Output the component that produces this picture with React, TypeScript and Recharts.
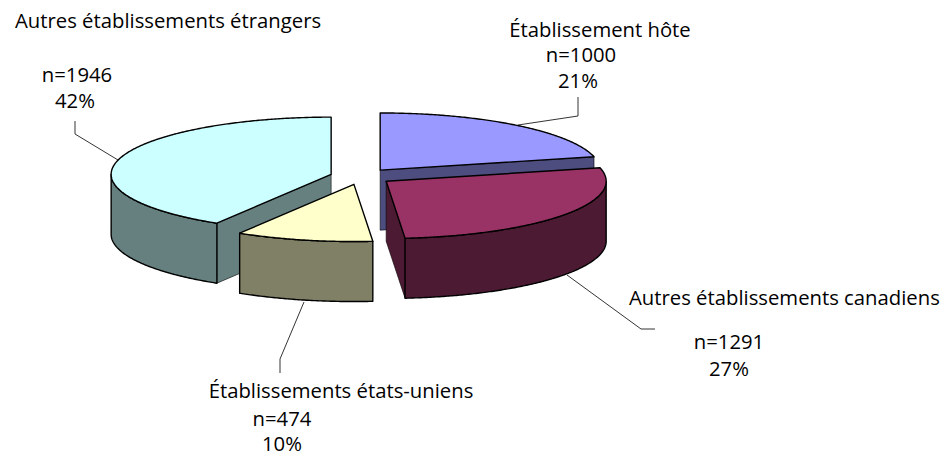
import React from 'react';
import { PieChart, Pie } from 'recharts';

// painted back to front, so the big slice comes first
const categories = ['Autres établissements étrangers', 'Établissement hôte', 'Autres établissements canadiens', 'Établissements états-uniens'];
const counts = [1946, 1000, 1291, 474];
const percents = ['42%', '21%', '27%', '10%'];

const topColors = ['#CCFFFF', '#9999FF', '#993366', '#FFFFCC'];
const sideColors = ['#668080', '#4D4D80', '#4D1A33', '#808066'];

const W = 946;
const H = 453;
const SQUASH = 0.26; // flattening of the disc
const DEPTH = 60;
const EXPLODE = 31;
const FONT = '"Open Sans", sans-serif';
const FONT_SIZE = 20.3;

const labelLayout = [
  [{ x: 15, y: 28, anchor: 'start' }, { x: 77, y: 82, anchor: 'middle' }, { x: 75, y: 108, anchor: 'middle' }],
  [{ x: 600, y: 37, anchor: 'middle' }, { x: 581, y: 62, anchor: 'middle' }, { x: 578, y: 88, anchor: 'middle' }],
  [{ x: 629, y: 305, anchor: 'start' }, { x: 729, y: 349, anchor: 'middle' }, { x: 729, y: 376, anchor: 'middle' }],
  [{ x: 341, y: 398, anchor: 'middle' }, { x: 282, y: 426, anchor: 'middle' }, { x: 282, y: 451, anchor: 'middle' }],
];

const leaders = [
  '75,121 75,134 118,160',
  '518,125 578,116 578,97',
  '567,275 641,329 655,329',
  '304,302 280,359 280,373',
];

const rad = (d: number) => (d * Math.PI) / 180;
const path = (pts: number[][]) => 'M' + pts.map(p => `${p[0].toFixed(2)},${p[1].toFixed(2)}`).join('L') + 'Z';

// draws a Recharts sector as a thick squashed slice
const Slice3D = (props: any) => {
  const { cx, cy, outerRadius: r, startAngle, endAngle, fill, side } = props;
  // clockwise from 12 o'clock
  const s = 90 - startAngle;
  const e = 90 - endAngle;
  const m = (s + e) / 2;
  const ax = cx + EXPLODE * Math.sin(rad(m));
  const ay = cy - EXPLODE * SQUASH * Math.cos(rad(m));
  const at = (a: number, dy = 0) => [ax + r * Math.sin(rad(a)), ay - r * SQUASH * Math.cos(rad(a)) + dy];

  const arc: number[] = [];
  for (let a = s; a < e; a += 0.5) arc.push(a);
  arc.push(e);

  const front = arc.filter(a => Math.cos(rad(a)) <= 0);
  const wall = front.length > 1 ? path([...front.map(a => at(a)), ...[...front].reverse().map(a => at(a, DEPTH))]) : null;
  const cut = (a: number) => path([[ax, ay], at(a), at(a, DEPTH), [ax, ay + DEPTH]]);

  return (
    <g>
      {Math.sin(rad(s)) < -0.01 && <path d={cut(s)} fill={side} stroke="#000" strokeWidth={0.6} strokeLinejoin="round" />}
      {Math.sin(rad(e)) > 0.01 && <path d={cut(e)} fill={side} stroke="#000" strokeWidth={0.6} strokeLinejoin="round" />}
      {wall && <path d={wall} fill={side} stroke="#000" strokeWidth={1.4} strokeLinejoin="round" />}
      <path d={path([[ax, ay], ...arc.map(a => at(a))])} fill={fill} stroke="#000" strokeWidth={1.4} strokeLinejoin="round" />
    </g>
  );
};

const renderLabel = (props: any) => {
  const i = props.index;
  const lines = [categories[i], `n=${counts[i]}`, percents[i]];
  return (
    <g key={`label-${i}`}>
      {lines.map((t, k) => (
        <text key={k} x={labelLayout[i][k].x} y={labelLayout[i][k].y} textAnchor={labelLayout[i][k].anchor as any} fontFamily={FONT} fontSize={FONT_SIZE} fill="#000">
          {t}
        </text>
      ))}
    </g>
  );
};

const renderLeader = (props: any) => (
  <polyline key={`leader-${props.index}`} points={leaders[props.index]} fill="none" stroke="#000" strokeWidth={0.8} />
);

const data = categories.map((name, i) => ({
  name,
  value: counts[i],
  fill: topColors[i],
  side: sideColors[i],
}));

const total = counts.reduce((a, b) => a + b, 0);
const startAngle = 90 + (counts[0] / total) * 360;

export default function App() {
  return (
    <div style={{ position: 'absolute', left: 0, top: 0, width: W, height: H, background: '#fff' }}>
      <PieChart width={W} height={H} margin={{ top: 0, right: 0, bottom: 0, left: 0 }}>
        <Pie
          data={data}
          dataKey="value"
          nameKey="name"
          cx={361}
          cy={176.5}
          outerRadius={220}
          startAngle={startAngle}
          endAngle={startAngle - 360}
          stroke="none"
          shape={Slice3D}
          label={renderLabel}
          labelLine={renderLeader}
          isAnimationActive={false}
        />
      </PieChart>
    </div>
  );
}
